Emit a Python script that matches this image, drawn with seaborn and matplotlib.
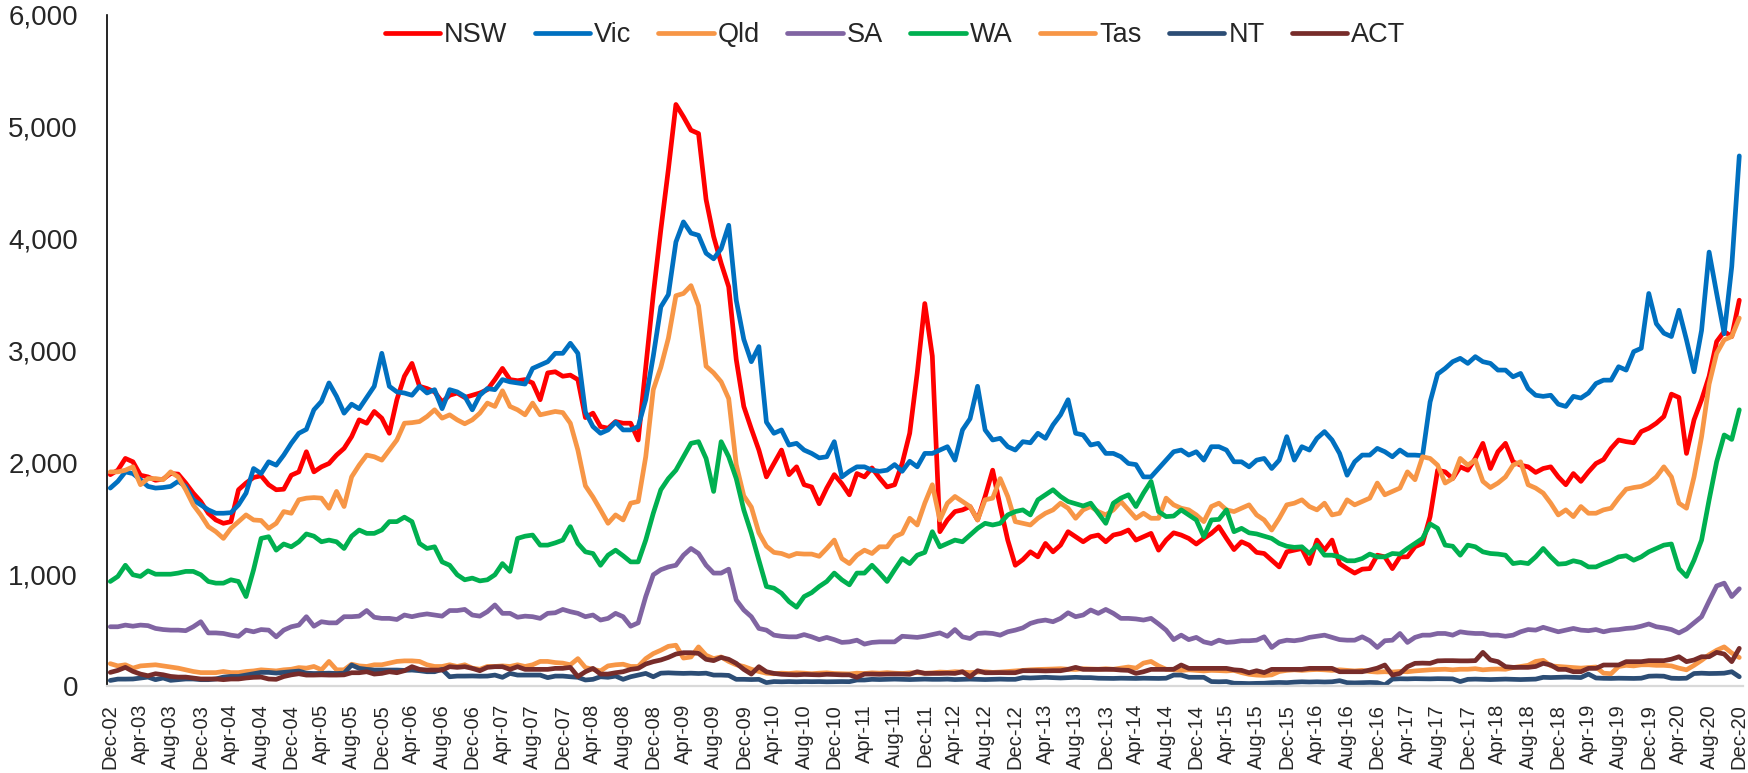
import pandas as pd
import matplotlib
matplotlib.use("Agg")
import matplotlib.pyplot as plt
import seaborn as sns
from matplotlib.ticker import FuncFormatter

# monthly values, Dec-02 .. Dec-20 (217 months)
nsw = [1890, 1930, 2035, 2005, 1885, 1870, 1840, 1850, 1900, 1895,
       1815, 1725, 1650, 1545, 1485, 1455, 1470, 1755, 1815, 1865,
       1880, 1800, 1755, 1760, 1885, 1915, 2095, 1915, 1960, 1990,
       2065, 2125, 2230, 2380, 2350, 2455, 2395, 2260, 2560, 2770,
       2885, 2680, 2660, 2630, 2540, 2600, 2620, 2580, 2600, 2620,
       2650, 2740, 2840, 2740, 2730, 2740, 2710, 2560, 2800, 2810,
       2770, 2780, 2740, 2400, 2440, 2320, 2305, 2365, 2350, 2350,
       2200, 2850, 3500, 4080, 4620, 5200, 5090, 4970, 4940, 4350,
       4020, 3780, 3570, 2920, 2500, 2300, 2110, 1870, 1990, 2110,
       1890, 1960, 1800, 1780, 1630, 1770, 1890, 1810, 1710, 1900,
       1870, 1950, 1860, 1780, 1800, 1990, 2260, 2800, 3420, 2950,
       1380, 1485, 1560, 1575, 1605, 1485, 1695, 1930, 1605, 1305,
       1080, 1130, 1200, 1155, 1275, 1200, 1260, 1380, 1335, 1290,
       1335, 1350, 1290, 1350, 1365, 1395, 1305, 1335, 1365, 1215,
       1305, 1370, 1350, 1320, 1270, 1320, 1365, 1425, 1320, 1220,
       1290, 1260, 1195, 1185, 1125, 1065, 1200, 1215, 1230, 1095,
       1305, 1215, 1305, 1095, 1050, 1010, 1045, 1050, 1170, 1155,
       1050, 1155, 1155, 1245, 1275, 1515, 1930, 1915, 1855, 1960,
       1930, 2035, 2170, 1945, 2095, 2170, 2005, 1975, 1960, 1910,
       1945, 1960, 1870, 1800, 1900, 1830, 1915, 1990, 2025, 2125,
       2200, 2185, 2175, 2275, 2305, 2350, 2410, 2610, 2580, 2080,
       2380, 2560, 2770, 3080, 3170, 3125, 3450]

vic = [1770, 1830, 1915, 1900, 1845, 1785, 1770, 1775, 1785, 1830,
       1785, 1665, 1620, 1575, 1545, 1545, 1550, 1620, 1725, 1945,
       1900, 2005, 1975, 2065, 2170, 2260, 2295, 2470, 2545, 2710,
       2590, 2440, 2520, 2480, 2580, 2680, 2975, 2680, 2630, 2620,
       2600, 2680, 2620, 2650, 2480, 2650, 2630, 2590, 2470, 2600,
       2660, 2650, 2740, 2720, 2710, 2700, 2840, 2870, 2900, 2975,
       2975, 3065, 2975, 2450, 2320, 2260, 2290, 2360, 2290, 2290,
       2320, 2560, 2950, 3390, 3500, 3970, 4150, 4050, 4030, 3870,
       3820, 3910, 4120, 3450, 3100, 2900, 3035, 2360, 2260, 2290,
       2155, 2170, 2110, 2080, 2040, 2050, 2185, 1870, 1920, 1960,
       1960, 1930, 1920, 1930, 1980, 1920, 2010, 1960, 2080, 2080,
       2110, 2140, 2020, 2290, 2390, 2680, 2290, 2200, 2215, 2140,
       2110, 2185, 2175, 2260, 2215, 2335, 2425, 2560, 2260, 2245,
       2155, 2170, 2080, 2080, 2050, 1990, 1980, 1870, 1870, 1945,
       2020, 2095, 2110, 2065, 2095, 2020, 2140, 2140, 2110, 2005,
       2005, 1960, 2020, 2035, 1945, 2020, 2230, 2020, 2140, 2110,
       2215, 2275, 2200, 2080, 1885, 2005, 2065, 2065, 2125, 2095,
       2050, 2110, 2065, 2065, 2060, 2540, 2790, 2840, 2900, 2930,
       2885, 2945, 2900, 2885, 2825, 2825, 2765, 2795, 2660, 2600,
       2590, 2600, 2520, 2500, 2590, 2575, 2620, 2705, 2735, 2735,
       2855, 2825, 2990, 3020, 3510, 3240, 3155, 3125, 3360, 3095,
       2810, 3180, 3880, 3510, 3150, 3750, 4740]

qld = [1915, 1915, 1930, 1960, 1800, 1855, 1855, 1845, 1915, 1870,
       1755, 1620, 1530, 1425, 1380, 1320, 1410, 1470, 1530, 1485,
       1480, 1410, 1455, 1560, 1545, 1665, 1680, 1685, 1680, 1590,
       1740, 1605, 1870, 1975, 2065, 2050, 2020, 2110, 2200, 2350,
       2355, 2365, 2410, 2470, 2395, 2425, 2380, 2345, 2380, 2440,
       2530, 2500, 2640, 2500, 2470, 2425, 2530, 2425, 2440, 2455,
       2445, 2350, 2110, 1790, 1690, 1575, 1455, 1530, 1485, 1635,
       1650, 2050, 2650, 2850, 3110, 3490, 3510, 3580, 3400, 2860,
       2800, 2720, 2570, 1980, 1700, 1600, 1370, 1250, 1195, 1185,
       1160, 1185, 1180, 1180, 1160, 1230, 1305, 1140, 1095, 1170,
       1215, 1185, 1245, 1245, 1335, 1365, 1500, 1440, 1635, 1800,
       1485, 1635, 1695, 1650, 1605, 1485, 1665, 1680, 1855, 1695,
       1470, 1455, 1440, 1500, 1545, 1575, 1635, 1590, 1500, 1575,
       1605, 1560, 1530, 1575, 1650, 1575, 1500, 1545, 1500, 1500,
       1680, 1620, 1590, 1575, 1530, 1470, 1605, 1635, 1575, 1560,
       1590, 1620, 1530, 1485, 1395, 1500, 1620, 1635, 1665, 1605,
       1575, 1635, 1530, 1545, 1665, 1620, 1650, 1680, 1815, 1710,
       1740, 1770, 1915, 1845, 2050, 2035, 1975, 1815, 1855, 2035,
       1975, 2020, 1830, 1775, 1815, 1870, 1975, 2005, 1800, 1770,
       1725, 1635, 1530, 1575, 1515, 1605, 1545, 1545, 1575, 1590,
       1680, 1760, 1775, 1785, 1815, 1870, 1960, 1870, 1635, 1590,
       1870, 2230, 2700, 2975, 3095, 3125, 3290]

sa = [530, 530, 545, 535, 545, 540, 515, 505, 500, 500,
      495, 530, 575, 475, 475, 470, 455, 445, 500, 485,
      505, 500, 440, 500, 530, 545, 620, 535, 575, 565,
      565, 620, 620, 625, 675, 615, 605, 605, 595, 635,
      620, 635, 645, 635, 625, 675, 675, 685, 635, 625,
      665, 725, 650, 650, 615, 625, 620, 605, 650, 655,
      685, 665, 650, 620, 635, 590, 605, 650, 620, 535,
      565, 800, 995, 1040, 1065, 1080, 1170, 1230, 1185, 1080,
      1010, 1010, 1045, 770, 680, 620, 515, 500, 455, 445,
      440, 440, 460, 440, 415, 435, 415, 390, 395, 410,
      375, 390, 395, 395, 395, 445, 440, 435, 445, 460,
      475, 445, 505, 440, 425, 470, 475, 470, 455, 485,
      500, 520, 560, 580, 590, 575, 605, 655, 620, 635,
      680, 650, 685, 650, 605, 605, 600, 590, 605, 555,
      500, 415, 455, 415, 435, 395, 380, 410, 390, 395,
      405, 405, 410, 440, 345, 395, 410, 405, 415, 435,
      445, 455, 435, 415, 410, 410, 440, 405, 345, 405,
      410, 470, 390, 435, 455, 455, 470, 470, 455, 485,
      475, 470, 470, 455, 455, 445, 455, 485, 505, 500,
      525, 505, 485, 500, 515, 500, 495, 505, 485, 500,
      505, 515, 520, 535, 555, 530, 520, 505, 475, 510,
      565, 620, 760, 895, 920, 800, 870]

wa = [935, 980, 1080, 995, 980, 1030, 1000, 1000, 1000, 1010,
      1025, 1025, 995, 935, 920, 920, 950, 935, 800, 1040,
      1320, 1335, 1215, 1270, 1245, 1290, 1360, 1340, 1290, 1305,
      1290, 1230, 1340, 1395, 1365, 1365, 1395, 1470, 1470, 1510,
      1470, 1275, 1230, 1245, 1110, 1080, 995, 950, 965, 940,
      950, 995, 1095, 1025, 1320, 1340, 1350, 1260, 1260, 1280,
      1305, 1425, 1275, 1200, 1185, 1080, 1170, 1215, 1165, 1110,
      1110, 1305, 1545, 1755, 1855, 1930, 2050, 2170, 2185, 2035,
      1740, 2185, 2050, 1855, 1575, 1365, 1125, 890, 875, 830,
      755, 705, 800, 835, 890, 935, 1010, 950, 905, 1010,
      1010, 1080, 1010, 935, 1040, 1140, 1095, 1170, 1195, 1380,
      1245, 1275, 1305, 1290, 1350, 1410, 1455, 1440, 1455, 1530,
      1560, 1575, 1530, 1665, 1710, 1755, 1695, 1650, 1630, 1610,
      1635, 1545, 1455, 1635, 1680, 1710, 1605, 1725, 1830, 1560,
      1515, 1520, 1575, 1530, 1485, 1335, 1485, 1490, 1575, 1380,
      1410, 1370, 1360, 1340, 1320, 1275, 1250, 1240, 1245, 1185,
      1260, 1170, 1170, 1155, 1120, 1120, 1140, 1180, 1155, 1155,
      1185, 1180, 1230, 1275, 1320, 1450, 1410, 1260, 1250, 1170,
      1260, 1245, 1200, 1185, 1180, 1170, 1095, 1105, 1095, 1155,
      1230, 1155, 1090, 1095, 1120, 1105, 1065, 1065, 1095, 1120,
      1155, 1165, 1125, 1155, 1200, 1230, 1260, 1270, 1050, 980,
      1125, 1305, 1665, 2005, 2245, 2205, 2470]

tas = [200, 180, 190, 160, 180, 185, 190, 180, 170, 160,
       145, 130, 120, 120, 120, 130, 120, 120, 130, 135,
       145, 140, 135, 145, 150, 165, 160, 175, 145, 220,
       145, 145, 195, 180, 175, 190, 190, 205, 220, 225,
       225, 220, 190, 175, 175, 190, 175, 190, 160, 150,
       175, 175, 180, 175, 190, 175, 190, 220, 220, 210,
       205, 190, 245, 165, 150, 135, 180, 190, 195, 175,
       175, 245, 290, 320, 355, 365, 250, 260, 350, 275,
       245, 260, 220, 190, 175, 150, 130, 115, 110, 115,
       112, 118, 115, 110, 115, 118, 112, 110, 108, 115,
       112, 118, 115, 120, 115, 112, 118, 120, 115, 118,
       125, 122, 128, 125, 120, 125, 128, 122, 125, 130,
       135, 140, 145, 148, 150, 152, 155, 150, 148, 155,
       152, 150, 155, 150, 160, 170, 160, 205, 220, 180,
       150, 145, 140, 145, 140, 135, 140, 138, 135, 140,
       120, 105, 98, 95, 100, 130, 140, 145, 140, 145,
       148, 145, 140, 145, 140, 135, 140, 130, 125, 128,
       125, 130, 128, 135, 140, 145, 148, 150, 145, 150,
       150, 155, 145, 150, 152, 150, 165, 175, 185, 220,
       230, 180, 175, 170, 165, 160, 165, 170, 115, 110,
       175, 185, 180, 190, 190, 185, 185, 180, 160, 145,
       185, 230, 280, 320, 350, 295, 255]

nt = [50, 62, 62, 63, 72, 80, 57, 72, 51, 57,
      63, 63, 57, 57, 63, 80, 86, 86, 98, 110,
      122, 122, 116, 122, 128, 134, 115, 112, 113, 115,
      112, 115, 188, 158, 149, 143, 143, 143, 143, 140,
      143, 137, 128, 128, 149, 83, 89, 89, 90, 88,
      89, 98, 78, 113, 98, 98, 98, 98, 75, 89,
      89, 83, 78, 54, 60, 83, 78, 89, 60, 83,
      98, 113, 83, 115, 118, 115, 113, 115, 112, 115,
      98, 98, 95, 60, 60, 58, 60, 30, 40, 38,
      40, 38, 40, 39, 40, 38, 39, 40, 39, 54,
      54, 60, 58, 60, 62, 60, 58, 60, 62, 60,
      60, 62, 58, 60, 62, 60, 58, 60, 62, 60,
      60, 75, 72, 75, 78, 75, 72, 75, 78, 75,
      75, 70, 69, 68, 70, 69, 68, 70, 69, 68,
      70, 98, 98, 78, 78, 78, 40, 38, 40, 25,
      24, 22, 24, 25, 30, 32, 30, 35, 38, 36,
      38, 36, 38, 48, 30, 28, 30, 32, 30, 10,
      62, 65, 64, 66, 65, 64, 66, 65, 64, 40,
      60, 62, 60, 58, 60, 62, 60, 58, 60, 62,
      78, 76, 78, 80, 78, 76, 107, 72, 69, 68,
      70, 69, 68, 70, 88, 90, 88, 70, 68, 70,
      112, 115, 112, 113, 115, 128, 83]

act = [122, 140, 167, 131, 107, 92, 110, 101, 86, 80,
       80, 72, 63, 63, 63, 57, 63, 63, 72, 78,
       80, 63, 60, 85, 100, 110, 98, 98, 100, 98,
       98, 100, 119, 119, 128, 107, 113, 128, 119, 137,
       173, 149, 143, 143, 143, 173, 167, 173, 158, 137,
       167, 173, 173, 149, 173, 149, 149, 149, 149, 158,
       158, 167, 85, 128, 158, 107, 107, 119, 128, 149,
       158, 197, 218, 233, 256, 286, 298, 298, 292, 239,
       227, 256, 239, 203, 149, 107, 173, 128, 113, 105,
       102, 100, 104, 102, 100, 105, 103, 100, 100, 78,
       107, 107, 105, 107, 108, 107, 105, 128, 113, 113,
       113, 115, 113, 128, 83, 137, 119, 119, 120, 119,
       119, 137, 137, 137, 135, 137, 137, 149, 167, 149,
       149, 149, 149, 149, 143, 140, 113, 128, 149, 149,
       149, 150, 188, 158, 158, 158, 158, 158, 158, 145,
       140, 119, 137, 120, 149, 149, 149, 149, 149, 158,
       158, 158, 158, 128, 128, 128, 128, 143, 160, 188,
       98, 113, 173, 203, 205, 203, 225, 227, 227, 225,
       225, 227, 301, 233, 218, 173, 167, 167, 167, 175,
       203, 188, 149, 149, 128, 128, 158, 158, 188, 188,
       188, 218, 218, 218, 227, 227, 227, 240, 262, 218,
       233, 262, 262, 301, 286, 218, 337]

states = ["NSW", "Vic", "Qld", "SA", "WA", "Tas", "NT", "ACT"]
colors = ["#FF0000", "#0070C0", "#F79646", "#8064A2", "#00B050",
          "#F79646", "#2C4D75", "#772C2A"]
series = [nsw, vic, qld, sa, wa, tas, nt, act]

months = pd.date_range("2002-12-01", periods=217, freq="MS")
month_labels = [d.strftime("%b-%y") for d in months]

rows = []
for name, vals in zip(states, series):
    assert len(vals) == 217, name
    for i, v in enumerate(vals):
        rows.append({"idx": i, "value": v, "state": name})
df = pd.DataFrame(rows)

sns.set_style("white")
plt.rcParams["font.family"] = ["Liberation Sans", "DejaVu Sans"]

fig = plt.figure(figsize=(17.49, 7.73), dpi=100)
ax = fig.add_axes([0.0609, 0.1125, 0.9357, 0.8681])

sns.lineplot(data=df, x="idx", y="value", hue="state", hue_order=states,
             palette=dict(zip(states, colors)), linewidth=3.4,
             errorbar=None, legend=False, ax=ax)
for line in ax.get_lines():
    line.set_solid_joinstyle("round")
    line.set_solid_capstyle("round")

ax.set_xlim(-0.5, 216.5)
ax.set_ylim(0, 6000)
ax.set_yticks(range(0, 6001, 1000))
ax.yaxis.set_major_formatter(FuncFormatter(lambda v, p: f"{int(v):,}"))
ax.set_xticks(range(0, 217, 4))
ax.set_xticklabels(month_labels[::4], rotation=90)
ax.set_xlabel("")
ax.set_ylabel("")

for s in ["top", "right"]:
    ax.spines[s].set_visible(False)
ax.spines["left"].set_color("black")
ax.spines["left"].set_linewidth(1.2)
ax.spines["bottom"].set_color("#D9D9D9")
ax.spines["bottom"].set_linewidth(1.6)
ax.tick_params(axis="y", direction="out", length=6.5, width=1.2,
               color="black", pad=14, labelsize=20)
ax.tick_params(axis="x", length=0, pad=13, labelsize=14.5)

handles = ax.get_lines()[:8]
fig.legend(handles, states, loc="center", bbox_to_anchor=(895 / 1749, 1 - 35 / 773),
           ncol=8, frameon=False, fontsize=19.5, handlelength=2.05,
           handletextpad=0.15, columnspacing=1.0, borderpad=0)

fig.savefig("out.png", dpi=100, facecolor="white")
